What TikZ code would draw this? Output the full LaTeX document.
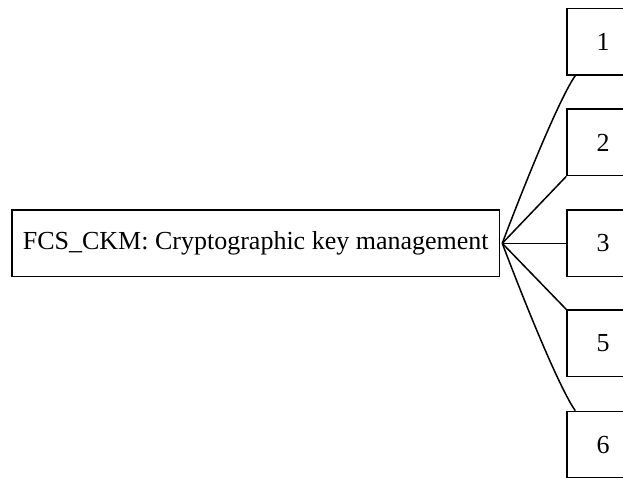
\documentclass[tikz,border=0pt]{standalone}
\usepackage{fontspec}
\setmainfont{Liberation Serif}
\begin{document}
\begin{tikzpicture}[x=1pt,y=-1pt,
  box/.style={draw, line width=1.5pt, inner sep=0pt, minimum height=66.5pt, font=\fontsize{26}{30}\selectfont},
  sub/.style={box, minimum width=72pt},
  conn/.style={line width=1.5pt}]
\useasboundingbox (0,0) rectangle (623,478);
\clip (0,0) rectangle (623,478);
\node[box, minimum width=487.5pt] (m) at (255.75,243.3) {FCS\_CKM: Cryptographic key management};
\node[sub] (b1) at (603,41.7) {1};
\node[sub] (b2) at (603,142.4) {2};
\node[sub] (b3) at (603,243.3) {3};
\node[sub] (b5) at (603,343.4) {5};
\node[sub] (b6) at (603,444.6) {6};
\coordinate (j) at ([xshift=2pt]m.east);
\draw[conn] (j) .. controls (530,170) and (561,96) .. ([xshift=9pt]b1.south west);
\draw[conn] (j) -- (b2.south west);
\draw[conn] (j) -- (b3.west);
\draw[conn] (j) -- (b5.north west);
\draw[conn] (j) .. controls (530,316.6) and (561,390.6) .. ([xshift=9pt]b6.north west);
\end{tikzpicture}
\end{document}
